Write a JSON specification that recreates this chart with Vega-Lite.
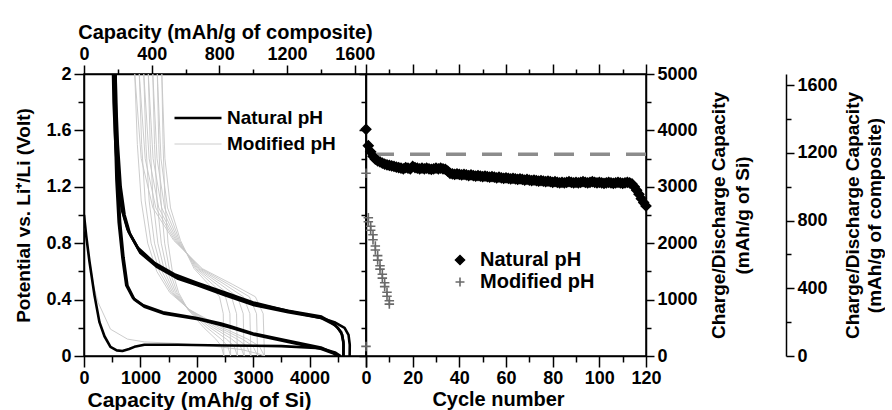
{
  "$schema": "https://vega.github.io/schema/vega-lite/v6.json",
  "padding": {"left": 14, "top": 21, "right": 0, "bottom": 0},
  "spacing": 0,
  "bounds": "flush",
  "background": "white",
  "datasets": {
    "gray": [
      {"s":"Modified pH","c":"gf","i":0,"x":0,"v":0.95},{"s":"Modified pH","c":"gf","i":1,"x":90,"v":0.7},{"s":"Modified pH","c":"gf","i":2,"x":170,"v":0.5},{"s":"Modified pH","c":"gf","i":3,"x":250,"v":0.38},{"s":"Modified pH","c":"gf","i":4,"x":470,"v":0.19},{"s":"Modified pH","c":"gf","i":5,"x":770,"v":0.12},{"s":"Modified pH","c":"gf","i":6,"x":1070,"v":0.1},{"s":"Modified pH","c":"gf","i":7,"x":1600,"v":0.09},{"s":"Modified pH","c":"gf","i":8,"x":2300,"v":0.07},{"s":"Modified pH","c":"gf","i":9,"x":2800,"v":0.045},{"s":"Modified pH","c":"gf","i":10,"x":3100,"v":0.015},{"s":"Modified pH","c":"gf","i":11,"x":3200,"v":0},
      {"s":"Modified pH","c":"g0c","i":0,"x":3200,"v":0},{"s":"Modified pH","c":"g0c","i":1,"x":3177,"v":0.3},{"s":"Modified pH","c":"g0c","i":2,"x":3039,"v":0.42},{"s":"Modified pH","c":"g0c","i":3,"x":2625,"v":0.51},{"s":"Modified pH","c":"g0c","i":4,"x":2096,"v":0.62},{"s":"Modified pH","c":"g0c","i":5,"x":1590,"v":0.82},{"s":"Modified pH","c":"g0c","i":6,"x":1222,"v":1.05},{"s":"Modified pH","c":"g0c","i":7,"x":1015,"v":1.4},{"s":"Modified pH","c":"g0c","i":8,"x":900,"v":2.0},
      {"s":"Modified pH","c":"g1c","i":0,"x":3080,"v":0},{"s":"Modified pH","c":"g1c","i":1,"x":3059,"v":0.3},{"s":"Modified pH","c":"g1c","i":2,"x":2933,"v":0.42},{"s":"Modified pH","c":"g1c","i":3,"x":2555,"v":0.51},{"s":"Modified pH","c":"g1c","i":4,"x":2072,"v":0.62},{"s":"Modified pH","c":"g1c","i":5,"x":1610,"v":0.82},{"s":"Modified pH","c":"g1c","i":6,"x":1274,"v":1.05},{"s":"Modified pH","c":"g1c","i":7,"x":1085,"v":1.4},{"s":"Modified pH","c":"g1c","i":8,"x":980,"v":2.0},
      {"s":"Modified pH","c":"g2c","i":0,"x":2960,"v":0},{"s":"Modified pH","c":"g2c","i":1,"x":2941,"v":0.3},{"s":"Modified pH","c":"g2c","i":2,"x":2827,"v":0.42},{"s":"Modified pH","c":"g2c","i":3,"x":2485,"v":0.51},{"s":"Modified pH","c":"g2c","i":4,"x":2048,"v":0.62},{"s":"Modified pH","c":"g2c","i":5,"x":1630,"v":0.82},{"s":"Modified pH","c":"g2c","i":6,"x":1326,"v":1.05},{"s":"Modified pH","c":"g2c","i":7,"x":1155,"v":1.4},{"s":"Modified pH","c":"g2c","i":8,"x":1060,"v":2.0},
      {"s":"Modified pH","c":"g3c","i":0,"x":2840,"v":0},{"s":"Modified pH","c":"g3c","i":1,"x":2823,"v":0.3},{"s":"Modified pH","c":"g3c","i":2,"x":2721,"v":0.42},{"s":"Modified pH","c":"g3c","i":3,"x":2415,"v":0.51},{"s":"Modified pH","c":"g3c","i":4,"x":2024,"v":0.62},{"s":"Modified pH","c":"g3c","i":5,"x":1650,"v":0.82},{"s":"Modified pH","c":"g3c","i":6,"x":1378,"v":1.05},{"s":"Modified pH","c":"g3c","i":7,"x":1225,"v":1.4},{"s":"Modified pH","c":"g3c","i":8,"x":1140,"v":2.0},
      {"s":"Modified pH","c":"g4c","i":0,"x":2720,"v":0},{"s":"Modified pH","c":"g4c","i":1,"x":2705,"v":0.3},{"s":"Modified pH","c":"g4c","i":2,"x":2615,"v":0.42},{"s":"Modified pH","c":"g4c","i":3,"x":2345,"v":0.51},{"s":"Modified pH","c":"g4c","i":4,"x":2000,"v":0.62},{"s":"Modified pH","c":"g4c","i":5,"x":1670,"v":0.82},{"s":"Modified pH","c":"g4c","i":6,"x":1430,"v":1.05},{"s":"Modified pH","c":"g4c","i":7,"x":1295,"v":1.4},{"s":"Modified pH","c":"g4c","i":8,"x":1220,"v":2.0},
      {"s":"Modified pH","c":"g5c","i":0,"x":2600,"v":0},{"s":"Modified pH","c":"g5c","i":1,"x":2587,"v":0.3},{"s":"Modified pH","c":"g5c","i":2,"x":2509,"v":0.42},{"s":"Modified pH","c":"g5c","i":3,"x":2275,"v":0.51},{"s":"Modified pH","c":"g5c","i":4,"x":1976,"v":0.62},{"s":"Modified pH","c":"g5c","i":5,"x":1690,"v":0.82},{"s":"Modified pH","c":"g5c","i":6,"x":1482,"v":1.05},{"s":"Modified pH","c":"g5c","i":7,"x":1365,"v":1.4},{"s":"Modified pH","c":"g5c","i":8,"x":1300,"v":2.0},
      {"s":"Modified pH","c":"g6c","i":0,"x":2480,"v":0},{"s":"Modified pH","c":"g6c","i":1,"x":2469,"v":0.3},{"s":"Modified pH","c":"g6c","i":2,"x":2403,"v":0.42},{"s":"Modified pH","c":"g6c","i":3,"x":2205,"v":0.51},{"s":"Modified pH","c":"g6c","i":4,"x":1952,"v":0.62},{"s":"Modified pH","c":"g6c","i":5,"x":1710,"v":0.82},{"s":"Modified pH","c":"g6c","i":6,"x":1534,"v":1.05},{"s":"Modified pH","c":"g6c","i":7,"x":1435,"v":1.4},{"s":"Modified pH","c":"g6c","i":8,"x":1380,"v":2.0},
      {"s":"Modified pH","c":"g0d","i":0,"x":900,"v":2.0},{"s":"Modified pH","c":"g0d","i":1,"x":946,"v":1.5},{"s":"Modified pH","c":"g0d","i":2,"x":1015,"v":1.1},{"s":"Modified pH","c":"g0d","i":3,"x":1130,"v":0.8},{"s":"Modified pH","c":"g0d","i":4,"x":1291,"v":0.6},{"s":"Modified pH","c":"g0d","i":5,"x":1521,"v":0.45},{"s":"Modified pH","c":"g0d","i":6,"x":1866,"v":0.33},{"s":"Modified pH","c":"g0d","i":7,"x":2464,"v":0.2},{"s":"Modified pH","c":"g0d","i":8,"x":2901,"v":0.12},{"s":"Modified pH","c":"g0d","i":9,"x":3108,"v":0.07},{"s":"Modified pH","c":"g0d","i":10,"x":3200,"v":0},
      {"s":"Modified pH","c":"g1d","i":0,"x":980,"v":2.0},{"s":"Modified pH","c":"g1d","i":1,"x":1022,"v":1.5},{"s":"Modified pH","c":"g1d","i":2,"x":1085,"v":1.1},{"s":"Modified pH","c":"g1d","i":3,"x":1190,"v":0.8},{"s":"Modified pH","c":"g1d","i":4,"x":1337,"v":0.6},{"s":"Modified pH","c":"g1d","i":5,"x":1547,"v":0.45},{"s":"Modified pH","c":"g1d","i":6,"x":1862,"v":0.33},{"s":"Modified pH","c":"g1d","i":7,"x":2408,"v":0.2},{"s":"Modified pH","c":"g1d","i":8,"x":2807,"v":0.12},{"s":"Modified pH","c":"g1d","i":9,"x":2996,"v":0.07},{"s":"Modified pH","c":"g1d","i":10,"x":3080,"v":0},
      {"s":"Modified pH","c":"g2d","i":0,"x":1060,"v":2.0},{"s":"Modified pH","c":"g2d","i":1,"x":1098,"v":1.5},{"s":"Modified pH","c":"g2d","i":2,"x":1155,"v":1.1},{"s":"Modified pH","c":"g2d","i":3,"x":1250,"v":0.8},{"s":"Modified pH","c":"g2d","i":4,"x":1383,"v":0.6},{"s":"Modified pH","c":"g2d","i":5,"x":1573,"v":0.45},{"s":"Modified pH","c":"g2d","i":6,"x":1858,"v":0.33},{"s":"Modified pH","c":"g2d","i":7,"x":2352,"v":0.2},{"s":"Modified pH","c":"g2d","i":8,"x":2713,"v":0.12},{"s":"Modified pH","c":"g2d","i":9,"x":2884,"v":0.07},{"s":"Modified pH","c":"g2d","i":10,"x":2960,"v":0},
      {"s":"Modified pH","c":"g3d","i":0,"x":1140,"v":2.0},{"s":"Modified pH","c":"g3d","i":1,"x":1174,"v":1.5},{"s":"Modified pH","c":"g3d","i":2,"x":1225,"v":1.1},{"s":"Modified pH","c":"g3d","i":3,"x":1310,"v":0.8},{"s":"Modified pH","c":"g3d","i":4,"x":1429,"v":0.6},{"s":"Modified pH","c":"g3d","i":5,"x":1599,"v":0.45},{"s":"Modified pH","c":"g3d","i":6,"x":1854,"v":0.33},{"s":"Modified pH","c":"g3d","i":7,"x":2296,"v":0.2},{"s":"Modified pH","c":"g3d","i":8,"x":2619,"v":0.12},{"s":"Modified pH","c":"g3d","i":9,"x":2772,"v":0.07},{"s":"Modified pH","c":"g3d","i":10,"x":2840,"v":0},
      {"s":"Modified pH","c":"g4d","i":0,"x":1220,"v":2.0},{"s":"Modified pH","c":"g4d","i":1,"x":1250,"v":1.5},{"s":"Modified pH","c":"g4d","i":2,"x":1295,"v":1.1},{"s":"Modified pH","c":"g4d","i":3,"x":1370,"v":0.8},{"s":"Modified pH","c":"g4d","i":4,"x":1475,"v":0.6},{"s":"Modified pH","c":"g4d","i":5,"x":1625,"v":0.45},{"s":"Modified pH","c":"g4d","i":6,"x":1850,"v":0.33},{"s":"Modified pH","c":"g4d","i":7,"x":2240,"v":0.2},{"s":"Modified pH","c":"g4d","i":8,"x":2525,"v":0.12},{"s":"Modified pH","c":"g4d","i":9,"x":2660,"v":0.07},{"s":"Modified pH","c":"g4d","i":10,"x":2720,"v":0},
      {"s":"Modified pH","c":"g5d","i":0,"x":1300,"v":2.0},{"s":"Modified pH","c":"g5d","i":1,"x":1326,"v":1.5},{"s":"Modified pH","c":"g5d","i":2,"x":1365,"v":1.1},{"s":"Modified pH","c":"g5d","i":3,"x":1430,"v":0.8},{"s":"Modified pH","c":"g5d","i":4,"x":1521,"v":0.6},{"s":"Modified pH","c":"g5d","i":5,"x":1651,"v":0.45},{"s":"Modified pH","c":"g5d","i":6,"x":1846,"v":0.33},{"s":"Modified pH","c":"g5d","i":7,"x":2184,"v":0.2},{"s":"Modified pH","c":"g5d","i":8,"x":2431,"v":0.12},{"s":"Modified pH","c":"g5d","i":9,"x":2548,"v":0.07},{"s":"Modified pH","c":"g5d","i":10,"x":2600,"v":0},
      {"s":"Modified pH","c":"g6d","i":0,"x":1380,"v":2.0},{"s":"Modified pH","c":"g6d","i":1,"x":1402,"v":1.5},{"s":"Modified pH","c":"g6d","i":2,"x":1435,"v":1.1},{"s":"Modified pH","c":"g6d","i":3,"x":1490,"v":0.8},{"s":"Modified pH","c":"g6d","i":4,"x":1567,"v":0.6},{"s":"Modified pH","c":"g6d","i":5,"x":1677,"v":0.45},{"s":"Modified pH","c":"g6d","i":6,"x":1842,"v":0.33},{"s":"Modified pH","c":"g6d","i":7,"x":2128,"v":0.2},{"s":"Modified pH","c":"g6d","i":8,"x":2337,"v":0.12},{"s":"Modified pH","c":"g6d","i":9,"x":2436,"v":0.07},{"s":"Modified pH","c":"g6d","i":10,"x":2480,"v":0}
    ],
    "black": [
      {"s":"Natural pH","c":"n1d","i":0,"x":0,"v":1.0},{"s":"Natural pH","c":"n1d","i":1,"x":40,"v":0.85},{"s":"Natural pH","c":"n1d","i":2,"x":97,"v":0.67},{"s":"Natural pH","c":"n1d","i":3,"x":186,"v":0.43},{"s":"Natural pH","c":"n1d","i":4,"x":274,"v":0.24},{"s":"Natural pH","c":"n1d","i":5,"x":363,"v":0.14},{"s":"Natural pH","c":"n1d","i":6,"x":469,"v":0.065},{"s":"Natural pH","c":"n1d","i":7,"x":580,"v":0.04},{"s":"Natural pH","c":"n1d","i":8,"x":681,"v":0.035},{"s":"Natural pH","c":"n1d","i":9,"x":800,"v":0.05},{"s":"Natural pH","c":"n1d","i":10,"x":894,"v":0.065},{"s":"Natural pH","c":"n1d","i":11,"x":1071,"v":0.08},{"s":"Natural pH","c":"n1d","i":12,"x":1655,"v":0.08},{"s":"Natural pH","c":"n1d","i":13,"x":2500,"v":0.075},{"s":"Natural pH","c":"n1d","i":14,"x":3500,"v":0.07},{"s":"Natural pH","c":"n1d","i":15,"x":4200,"v":0.055},{"s":"Natural pH","c":"n1d","i":16,"x":4450,"v":0.025},{"s":"Natural pH","c":"n1d","i":17,"x":4550,"v":0},
      {"s":"Natural pH","c":"na","i":0,"x":4710,"v":0},{"s":"Natural pH","c":"na","i":1,"x":4712,"v":0.08},{"s":"Natural pH","c":"na","i":2,"x":4690,"v":0.15},{"s":"Natural pH","c":"na","i":3,"x":4620,"v":0.2},{"s":"Natural pH","c":"na","i":4,"x":4440,"v":0.24},{"s":"Natural pH","c":"na","i":5,"x":4210,"v":0.27},{"s":"Natural pH","c":"na","i":6,"x":3620,"v":0.31},{"s":"Natural pH","c":"na","i":7,"x":3020,"v":0.36},{"s":"Natural pH","c":"na","i":8,"x":2500,"v":0.43},{"s":"Natural pH","c":"na","i":9,"x":2025,"v":0.5},{"s":"Natural pH","c":"na","i":10,"x":1655,"v":0.55},{"s":"Natural pH","c":"na","i":11,"x":1300,"v":0.63},{"s":"Natural pH","c":"na","i":12,"x":1000,"v":0.73},{"s":"Natural pH","c":"na","i":13,"x":820,"v":0.86},{"s":"Natural pH","c":"na","i":14,"x":720,"v":1.0},{"s":"Natural pH","c":"na","i":15,"x":650,"v":1.2},{"s":"Natural pH","c":"na","i":16,"x":600,"v":1.5},{"s":"Natural pH","c":"na","i":17,"x":570,"v":1.8},{"s":"Natural pH","c":"na","i":18,"x":560,"v":2.0},
      {"s":"Natural pH","c":"nb","i":0,"x":4600,"v":0},{"s":"Natural pH","c":"nb","i":1,"x":4602,"v":0.08},{"s":"Natural pH","c":"nb","i":2,"x":4580,"v":0.15},{"s":"Natural pH","c":"nb","i":3,"x":4500,"v":0.2},{"s":"Natural pH","c":"nb","i":4,"x":4380,"v":0.24},{"s":"Natural pH","c":"nb","i":5,"x":4210,"v":0.28},{"s":"Natural pH","c":"nb","i":6,"x":3620,"v":0.32},{"s":"Natural pH","c":"nb","i":7,"x":3020,"v":0.37},{"s":"Natural pH","c":"nb","i":8,"x":2500,"v":0.44},{"s":"Natural pH","c":"nb","i":9,"x":2025,"v":0.51},{"s":"Natural pH","c":"nb","i":10,"x":1655,"v":0.56},{"s":"Natural pH","c":"nb","i":11,"x":1300,"v":0.64},{"s":"Natural pH","c":"nb","i":12,"x":980,"v":0.75},{"s":"Natural pH","c":"nb","i":13,"x":790,"v":0.88},{"s":"Natural pH","c":"nb","i":14,"x":690,"v":1.02},{"s":"Natural pH","c":"nb","i":15,"x":620,"v":1.22},{"s":"Natural pH","c":"nb","i":16,"x":575,"v":1.5},{"s":"Natural pH","c":"nb","i":17,"x":545,"v":1.8},{"s":"Natural pH","c":"nb","i":18,"x":535,"v":2.0},
      {"s":"Natural pH","c":"nc","i":0,"x":4600,"v":0},{"s":"Natural pH","c":"nc","i":1,"x":4600,"v":0.1},{"s":"Natural pH","c":"nc","i":2,"x":4560,"v":0.17},{"s":"Natural pH","c":"nc","i":3,"x":4450,"v":0.22},{"s":"Natural pH","c":"nc","i":4,"x":4200,"v":0.27},{"s":"Natural pH","c":"nc","i":5,"x":3600,"v":0.32},{"s":"Natural pH","c":"nc","i":6,"x":3000,"v":0.38},{"s":"Natural pH","c":"nc","i":7,"x":2500,"v":0.45},{"s":"Natural pH","c":"nc","i":8,"x":2000,"v":0.52},{"s":"Natural pH","c":"nc","i":9,"x":1600,"v":0.58},{"s":"Natural pH","c":"nc","i":10,"x":1250,"v":0.66},{"s":"Natural pH","c":"nc","i":11,"x":950,"v":0.77},{"s":"Natural pH","c":"nc","i":12,"x":770,"v":0.9},{"s":"Natural pH","c":"nc","i":13,"x":670,"v":1.04},{"s":"Natural pH","c":"nc","i":14,"x":600,"v":1.24},{"s":"Natural pH","c":"nc","i":15,"x":555,"v":1.52},{"s":"Natural pH","c":"nc","i":16,"x":525,"v":1.8},{"s":"Natural pH","c":"nc","i":17,"x":515,"v":2.0},
      {"s":"Natural pH","c":"n2d","i":0,"x":560,"v":2.0},{"s":"Natural pH","c":"n2d","i":1,"x":575,"v":1.6},{"s":"Natural pH","c":"n2d","i":2,"x":600,"v":1.25},{"s":"Natural pH","c":"n2d","i":3,"x":640,"v":0.95},{"s":"Natural pH","c":"n2d","i":4,"x":700,"v":0.7},{"s":"Natural pH","c":"n2d","i":5,"x":770,"v":0.5},{"s":"Natural pH","c":"n2d","i":6,"x":895,"v":0.4},{"s":"Natural pH","c":"n2d","i":7,"x":1070,"v":0.35},{"s":"Natural pH","c":"n2d","i":8,"x":1425,"v":0.3},{"s":"Natural pH","c":"n2d","i":9,"x":2025,"v":0.26},{"s":"Natural pH","c":"n2d","i":10,"x":2430,"v":0.22},{"s":"Natural pH","c":"n2d","i":11,"x":2610,"v":0.2},{"s":"Natural pH","c":"n2d","i":12,"x":3020,"v":0.15},{"s":"Natural pH","c":"n2d","i":13,"x":3620,"v":0.1},{"s":"Natural pH","c":"n2d","i":14,"x":4210,"v":0.05},{"s":"Natural pH","c":"n2d","i":15,"x":4440,"v":0.015},{"s":"Natural pH","c":"n2d","i":16,"x":4500,"v":0},
      {"s":"Natural pH","c":"n3d","i":0,"x":535,"v":2.0},{"s":"Natural pH","c":"n3d","i":1,"x":550,"v":1.6},{"s":"Natural pH","c":"n3d","i":2,"x":575,"v":1.25},{"s":"Natural pH","c":"n3d","i":3,"x":615,"v":0.95},{"s":"Natural pH","c":"n3d","i":4,"x":680,"v":0.7},{"s":"Natural pH","c":"n3d","i":5,"x":750,"v":0.5},{"s":"Natural pH","c":"n3d","i":6,"x":870,"v":0.41},{"s":"Natural pH","c":"n3d","i":7,"x":1050,"v":0.36},{"s":"Natural pH","c":"n3d","i":8,"x":1400,"v":0.31},{"s":"Natural pH","c":"n3d","i":9,"x":2000,"v":0.27},{"s":"Natural pH","c":"n3d","i":10,"x":2430,"v":0.23},{"s":"Natural pH","c":"n3d","i":11,"x":2610,"v":0.21},{"s":"Natural pH","c":"n3d","i":12,"x":3000,"v":0.16},{"s":"Natural pH","c":"n3d","i":13,"x":3600,"v":0.11},{"s":"Natural pH","c":"n3d","i":14,"x":4200,"v":0.06},{"s":"Natural pH","c":"n3d","i":15,"x":4430,"v":0.02},{"s":"Natural pH","c":"n3d","i":16,"x":4480,"v":0}
    ],
    "cyc": [
      {"s":"Natural pH","n":0,"q":4020},{"s":"Natural pH","n":1,"q":3730},{"s":"Natural pH","n":2,"q":3620},{"s":"Natural pH","n":3,"q":3540},{"s":"Natural pH","n":4,"q":3490},{"s":"Natural pH","n":5,"q":3460},{"s":"Natural pH","n":6,"q":3440},{"s":"Natural pH","n":7,"q":3420},{"s":"Natural pH","n":8,"q":3400},{"s":"Natural pH","n":9,"q":3390},
      {"s":"Natural pH","n":10,"q":3380},{"s":"Natural pH","n":11,"q":3370},{"s":"Natural pH","n":12,"q":3360},{"s":"Natural pH","n":13,"q":3350},{"s":"Natural pH","n":14,"q":3340},{"s":"Natural pH","n":15,"q":3330},{"s":"Natural pH","n":16,"q":3320},{"s":"Natural pH","n":17,"q":3340},{"s":"Natural pH","n":18,"q":3330},{"s":"Natural pH","n":19,"q":3320},
      {"s":"Natural pH","n":20,"q":3360},{"s":"Natural pH","n":21,"q":3340},{"s":"Natural pH","n":22,"q":3330},{"s":"Natural pH","n":23,"q":3320},{"s":"Natural pH","n":24,"q":3330},{"s":"Natural pH","n":25,"q":3320},{"s":"Natural pH","n":26,"q":3330},{"s":"Natural pH","n":27,"q":3320},{"s":"Natural pH","n":28,"q":3310},{"s":"Natural pH","n":29,"q":3320},
      {"s":"Natural pH","n":30,"q":3330},{"s":"Natural pH","n":31,"q":3320},{"s":"Natural pH","n":32,"q":3330},{"s":"Natural pH","n":33,"q":3320},{"s":"Natural pH","n":34,"q":3310},{"s":"Natural pH","n":35,"q":3280},{"s":"Natural pH","n":36,"q":3240},{"s":"Natural pH","n":37,"q":3230},{"s":"Natural pH","n":38,"q":3220},{"s":"Natural pH","n":39,"q":3230},
      {"s":"Natural pH","n":40,"q":3220},{"s":"Natural pH","n":41,"q":3210},{"s":"Natural pH","n":42,"q":3220},{"s":"Natural pH","n":43,"q":3210},{"s":"Natural pH","n":44,"q":3200},{"s":"Natural pH","n":45,"q":3210},{"s":"Natural pH","n":46,"q":3200},{"s":"Natural pH","n":47,"q":3190},{"s":"Natural pH","n":48,"q":3200},{"s":"Natural pH","n":49,"q":3190},
      {"s":"Natural pH","n":50,"q":3180},{"s":"Natural pH","n":51,"q":3190},{"s":"Natural pH","n":52,"q":3180},{"s":"Natural pH","n":53,"q":3170},{"s":"Natural pH","n":54,"q":3180},{"s":"Natural pH","n":55,"q":3170},{"s":"Natural pH","n":56,"q":3160},{"s":"Natural pH","n":57,"q":3170},{"s":"Natural pH","n":58,"q":3160},{"s":"Natural pH","n":59,"q":3150},
      {"s":"Natural pH","n":60,"q":3160},{"s":"Natural pH","n":61,"q":3150},{"s":"Natural pH","n":62,"q":3140},{"s":"Natural pH","n":63,"q":3150},{"s":"Natural pH","n":64,"q":3140},{"s":"Natural pH","n":65,"q":3130},{"s":"Natural pH","n":66,"q":3140},{"s":"Natural pH","n":67,"q":3130},{"s":"Natural pH","n":68,"q":3120},{"s":"Natural pH","n":69,"q":3130},
      {"s":"Natural pH","n":70,"q":3120},{"s":"Natural pH","n":71,"q":3110},{"s":"Natural pH","n":72,"q":3120},{"s":"Natural pH","n":73,"q":3110},{"s":"Natural pH","n":74,"q":3100},{"s":"Natural pH","n":75,"q":3110},{"s":"Natural pH","n":76,"q":3100},{"s":"Natural pH","n":77,"q":3090},{"s":"Natural pH","n":78,"q":3100},{"s":"Natural pH","n":79,"q":3090},
      {"s":"Natural pH","n":80,"q":3080},{"s":"Natural pH","n":81,"q":3090},{"s":"Natural pH","n":82,"q":3080},{"s":"Natural pH","n":83,"q":3070},{"s":"Natural pH","n":84,"q":3080},{"s":"Natural pH","n":85,"q":3070},{"s":"Natural pH","n":86,"q":3080},{"s":"Natural pH","n":87,"q":3090},{"s":"Natural pH","n":88,"q":3080},{"s":"Natural pH","n":89,"q":3070},
      {"s":"Natural pH","n":90,"q":3080},{"s":"Natural pH","n":91,"q":3070},{"s":"Natural pH","n":92,"q":3080},{"s":"Natural pH","n":93,"q":3090},{"s":"Natural pH","n":94,"q":3080},{"s":"Natural pH","n":95,"q":3070},{"s":"Natural pH","n":96,"q":3080},{"s":"Natural pH","n":97,"q":3090},{"s":"Natural pH","n":98,"q":3080},{"s":"Natural pH","n":99,"q":3070},
      {"s":"Natural pH","n":100,"q":3080},{"s":"Natural pH","n":101,"q":3070},{"s":"Natural pH","n":102,"q":3060},{"s":"Natural pH","n":103,"q":3070},{"s":"Natural pH","n":104,"q":3080},{"s":"Natural pH","n":105,"q":3070},{"s":"Natural pH","n":106,"q":3060},{"s":"Natural pH","n":107,"q":3070},{"s":"Natural pH","n":108,"q":3080},{"s":"Natural pH","n":109,"q":3070},
      {"s":"Natural pH","n":110,"q":3060},{"s":"Natural pH","n":111,"q":3070},{"s":"Natural pH","n":112,"q":3080},{"s":"Natural pH","n":113,"q":3070},{"s":"Natural pH","n":114,"q":3050},{"s":"Natural pH","n":115,"q":3000},{"s":"Natural pH","n":116,"q":2940},{"s":"Natural pH","n":117,"q":2870},{"s":"Natural pH","n":118,"q":2790},{"s":"Natural pH","n":119,"q":2720},{"s":"Natural pH","n":120,"q":2660},
      {"s":"Modified pH","n":0,"q":3240},{"s":"Modified pH","n":0,"q":170},
      {"s":"Modified pH","n":1,"q":2450},{"s":"Modified pH","n":1,"q":2380},{"s":"Modified pH","n":2,"q":2300},{"s":"Modified pH","n":2,"q":2230},{"s":"Modified pH","n":3,"q":2150},{"s":"Modified pH","n":3,"q":2060},{"s":"Modified pH","n":4,"q":1950},{"s":"Modified pH","n":4,"q":1880},{"s":"Modified pH","n":5,"q":1780},{"s":"Modified pH","n":5,"q":1700},
      {"s":"Modified pH","n":6,"q":1600},{"s":"Modified pH","n":6,"q":1540},{"s":"Modified pH","n":7,"q":1450},{"s":"Modified pH","n":7,"q":1380},{"s":"Modified pH","n":8,"q":1300},{"s":"Modified pH","n":8,"q":1230},{"s":"Modified pH","n":9,"q":1130},{"s":"Modified pH","n":9,"q":1060},{"s":"Modified pH","n":10,"q":980},{"s":"Modified pH","n":10,"q":920}
    ],
    "theory": [{"q": 3579}],
    "compRange": [{"comp": 0}, {"comp": 1666.67}],
    "cycRange": [{"n": 0, "q": 0}, {"n": 120, "q": 5000}]
  },
  "resolve": {"scale": {"color": "independent", "shape": "independent", "strokeWidth": "independent", "fill": "independent", "stroke": "independent"}, "legend": {"color": "independent", "shape": "independent", "strokeWidth": "independent", "fill": "independent", "stroke": "independent"}},
  "hconcat": [
    {
      "width": 282,
      "height": 282,
      "resolve": {"scale": {"x": "independent"}, "axis": {"x": "independent"}},
      "layer": [
        {
          "layer": [
            {
              "data": {"name": "gray"},
              "mark": {"type": "line", "strokeJoin": "round", "clip": true},
              "encoding": {
                "x": {"field": "x", "type": "quantitative", "scale": {"domain": [0, 5000], "nice": false, "zero": false},
                  "axis": {"orient": "bottom", "values": [0,500,1000,1500,2000,2500,3000,3500,4000,4500,5000], "labelExpr": "datum.value % 1000 == 0 && datum.value < 5000 ? format(datum.value, 'd') : ''", "tickSize": {"condition": {"test": "datum.value % 1000 == 0", "value": 11}, "value": 6}, "title": "Capacity (mAh/g of Si)", "titleFontSize": 21, "titleX": 115, "labelPadding": 2, "titlePadding": 2}},
                "y": {"field": "v", "type": "quantitative", "scale": {"domain": [0, 2], "nice": false},
                  "axis": {"orient": "left", "values": [0,0.2,0.4,0.6,0.8,1,1.2,1.4,1.6,1.8,2], "labelExpr": "round(datum.value*10) % 4 == 0 ? format(datum.value, '~g') : ''", "tickSize": {"condition": {"test": "round(datum.value*10) % 4 == 0", "value": 10}, "value": 6}, "title": "Potential vs. Li⁺/Li (Volt)", "titleFontSize": 19, "labelPadding": 3, "titlePadding": 12}},
                "detail": {"field": "c"},
                "order": {"field": "i", "type": "quantitative"},
                "color": {"field": "s", "type": "nominal", "scale": {"domain": ["Natural pH", "Modified pH"], "range": ["#000000", "#c6c6c6"]},
                  "legend": {"orient": "none", "legendX": 89, "legendY": 34, "title": null, "symbolType": "stroke", "symbolSize": 2209, "clipHeight": 20, "labelFontSize": 19, "labelFontWeight": "bold", "labelFont": "Liberation Sans", "labelColor": "black", "labelOffset": 4, "rowPadding": 6}},
                "strokeWidth": {"field": "s", "type": "ordinal", "scale": {"domain": ["Natural pH", "Modified pH"], "range": [2.6, 0.9]},
                  "legend": {"orient": "none", "legendX": 89, "legendY": 34, "title": null, "symbolType": "stroke", "symbolSize": 2209, "clipHeight": 20, "labelFontSize": 19, "labelFontWeight": "bold", "labelFont": "Liberation Sans", "labelColor": "black", "labelOffset": 4, "rowPadding": 6}}
              }
            },
            {
              "data": {"name": "black"},
              "mark": {"type": "line", "strokeJoin": "round", "clip": true},
              "encoding": {
                "x": {"field": "x", "type": "quantitative", "scale": {"domain": [0, 5000], "nice": false, "zero": false},
                  "axis": {"orient": "bottom", "values": [0,500,1000,1500,2000,2500,3000,3500,4000,4500,5000], "labelExpr": "datum.value % 1000 == 0 && datum.value < 5000 ? format(datum.value, 'd') : ''", "tickSize": {"condition": {"test": "datum.value % 1000 == 0", "value": 11}, "value": 6}, "title": "Capacity (mAh/g of Si)", "titleFontSize": 21, "titleX": 115, "labelPadding": 2, "titlePadding": 2}},
                "y": {"field": "v", "type": "quantitative", "scale": {"domain": [0, 2], "nice": false},
                  "axis": {"orient": "left", "values": [0,0.2,0.4,0.6,0.8,1,1.2,1.4,1.6,1.8,2], "labelExpr": "round(datum.value*10) % 4 == 0 ? format(datum.value, '~g') : ''", "tickSize": {"condition": {"test": "round(datum.value*10) % 4 == 0", "value": 10}, "value": 6}, "title": "Potential vs. Li⁺/Li (Volt)", "titleFontSize": 19, "labelPadding": 3, "titlePadding": 12}},
                "detail": {"field": "c"},
                "order": {"field": "i", "type": "quantitative"},
                "color": {"field": "s", "type": "nominal", "scale": {"domain": ["Natural pH", "Modified pH"], "range": ["#000000", "#c6c6c6"]},
                  "legend": {"orient": "none", "legendX": 89, "legendY": 34, "title": null, "symbolType": "stroke", "symbolSize": 2209, "clipHeight": 20, "labelFontSize": 19, "labelFontWeight": "bold", "labelFont": "Liberation Sans", "labelColor": "black", "labelOffset": 4, "rowPadding": 6}},
                "strokeWidth": {"field": "s", "type": "ordinal", "scale": {"domain": ["Natural pH", "Modified pH"], "range": [2.6, 0.9]},
                  "legend": {"orient": "none", "legendX": 89, "legendY": 34, "title": null, "symbolType": "stroke", "symbolSize": 2209, "clipHeight": 20, "labelFontSize": 19, "labelFontWeight": "bold", "labelFont": "Liberation Sans", "labelColor": "black", "labelOffset": 4, "rowPadding": 6}}
              }
            }
          ]
        },
        {
          "data": {"name": "compRange"},
          "mark": {"type": "point", "opacity": 0},
          "encoding": {
            "x": {"field": "comp", "type": "quantitative", "scale": {"domain": [0, 1666.67], "nice": false, "zero": false},
              "axis": {"orient": "top", "values": [0,200,400,600,800,1000,1200,1400,1600], "labelExpr": "datum.value % 400 == 0 ? format(datum.value, 'd') : ''", "tickSize": {"condition": {"test": "datum.value % 400 == 0", "value": 9}, "value": 5}, "title": "Capacity (mAh/g of composite)", "labelPadding": 2, "titlePadding": 3}}
          }
        }
      ]
    },
    {
      "width": 280,
      "height": 282,
      "resolve": {"scale": {"y": "independent"}, "axis": {"x": "independent", "y": "independent"}},
      "layer": [
        {
          "layer": [
            {
              "data": {"name": "theory"},
              "mark": {"type": "rule", "color": "#8c8c8c", "strokeWidth": 3.5, "strokeDash": [20, 16]},
              "encoding": {
                "y": {"field": "q", "type": "quantitative", "scale": {"domain": [0, 5000], "nice": false},
                  "axis": {"orient": "right", "values": [0,500,1000,1500,2000,2500,3000,3500,4000,4500,5000], "labelExpr": "datum.value % 1000 == 0 ? format(datum.value, 'd') : ''", "tickSize": {"condition": {"test": "datum.value % 1000 == 0", "value": 8}, "value": 5}, "title": ["Charge/Discharge Capacity", "(mAh/g of Si)"], "titleAngle": 270, "titleFontSize": 19, "titleLineHeight": 24, "labelPadding": 3, "titlePadding": 7}}
              }
            },
            {
              "data": {"name": "cyc"},
              "mark": {"type": "point", "opacity": 1, "size": 90, "strokeWidth": 1.6},
              "encoding": {
                "x": {"field": "n", "type": "quantitative", "scale": {"domain": [0, 120], "nice": false},
                  "axis": {"orient": "bottom", "values": [0,10,20,30,40,50,60,70,80,90,100,110,120], "labelExpr": "datum.value % 20 == 0 ? format(datum.value, 'd') : ''", "tickSize": {"condition": {"test": "datum.value % 20 == 0", "value": 11}, "value": 6}, "title": "Cycle number", "titleX": 132, "labelPadding": 2, "titlePadding": 2}},
                "y": {"field": "q", "type": "quantitative", "scale": {"domain": [0, 5000], "nice": false},
                  "axis": {"orient": "right", "values": [0,500,1000,1500,2000,2500,3000,3500,4000,4500,5000], "labelExpr": "datum.value % 1000 == 0 ? format(datum.value, 'd') : ''", "tickSize": {"condition": {"test": "datum.value % 1000 == 0", "value": 8}, "value": 5}, "title": ["Charge/Discharge Capacity", "(mAh/g of Si)"], "titleAngle": 270, "titleFontSize": 19, "titleLineHeight": 24, "labelPadding": 3, "titlePadding": 7}},
                "shape": {"field": "s", "type": "nominal", "scale": {"domain": ["Natural pH", "Modified pH"], "range": ["diamond", "M-1,0H1M0,-1V1"]},
                  "legend": {"orient": "none", "legendX": 84, "legendY": 176, "title": null, "symbolSize": 80, "symbolStrokeWidth": 1.6, "labelFontSize": 20, "labelFontWeight": "bold", "labelFont": "Liberation Sans", "labelColor": "black", "labelOffset": 10, "rowPadding": 2}},
                "fill": {"field": "s", "type": "nominal", "scale": {"domain": ["Natural pH", "Modified pH"], "range": ["#000000", "transparent"]},
                  "legend": {"orient": "none", "legendX": 84, "legendY": 176, "title": null, "symbolSize": 80, "symbolStrokeWidth": 1.6, "labelFontSize": 20, "labelFontWeight": "bold", "labelFont": "Liberation Sans", "labelColor": "black", "labelOffset": 10, "rowPadding": 2}},
                "stroke": {"field": "s", "type": "nominal", "scale": {"domain": ["Natural pH", "Modified pH"], "range": ["#000000", "#6a6a6a"]},
                  "legend": {"orient": "none", "legendX": 84, "legendY": 176, "title": null, "symbolSize": 80, "symbolStrokeWidth": 1.6, "labelFontSize": 20, "labelFontWeight": "bold", "labelFont": "Liberation Sans", "labelColor": "black", "labelOffset": 10, "rowPadding": 2}}
              }
            }
          ]
        },
        {
          "data": {"name": "cycRange"},
          "mark": {"type": "point", "opacity": 0},
          "encoding": {
            "x": {"field": "n", "type": "quantitative", "scale": {"domain": [0, 120], "nice": false},
              "axis": {"orient": "top", "values": [0,10,20,30,40,50,60,70,80,90,100,110,120], "labels": false, "tickSize": {"condition": {"test": "datum.value % 20 == 0", "value": 10}, "value": 5}, "title": null}},
            "y": {"field": "q", "type": "quantitative", "scale": {"domain": [0, 5000], "nice": false},
              "axis": {"orient": "left", "values": [0,500,1000,1500,2000,2500,3000,3500,4000,4500,5000], "labels": false, "tickSize": {"condition": {"test": "datum.value % 1000 == 0", "value": 7}, "value": 5}, "title": null}}
          }
        },
        {
          "data": {"name": "compRange"},
          "mark": {"type": "point", "opacity": 0},
          "encoding": {
            "y": {"field": "comp", "type": "quantitative", "scale": {"domain": [0, 1666.67], "nice": false, "zero": false},
              "axis": {"orient": "right", "offset": 140, "values": [0,200,400,600,800,1000,1200,1400,1600], "labelExpr": "datum.value % 400 == 0 ? format(datum.value, 'd') : ''", "tickSize": {"condition": {"test": "datum.value % 400 == 0", "value": 8}, "value": 5}, "title": ["Charge/Discharge Capacity", "(mAh/g of composite)"], "titleAngle": 270, "titleFontSize": 19, "titleLineHeight": 22, "labelPadding": 3, "titlePadding": 3}}
          }
        }
      ]
    }
  ],
  "config": {
    "font": "Liberation Sans",
    "view": {"stroke": "black", "strokeWidth": 1.5},
    "axis": {"domainColor": "black", "domainWidth": 1.5, "tickColor": "black", "tickWidth": 1.5, "labelColor": "black", "labelFont": "Liberation Sans", "labelFontSize": 18, "labelFontWeight": "bold", "titleFont": "Liberation Sans", "titleFontSize": 20, "titleFontWeight": "bold", "titleColor": "black", "grid": false, "labelFlush": false, "labelOverlap": false, "labelBound": false}
  }
}
